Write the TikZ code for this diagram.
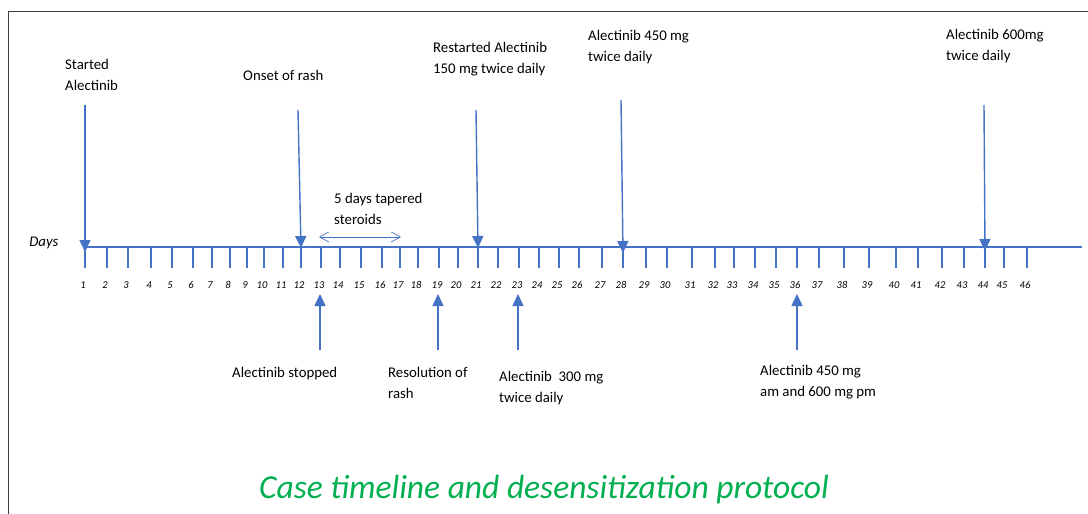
\documentclass[tikz,border=0pt]{standalone}
\usepackage{fontspec}
\setmainfont{Carlito}
\usetikzlibrary{arrows.meta}
\definecolor{lineblue}{RGB}{68,114,196}
\definecolor{titlegreen}{RGB}{0,176,80}

\begin{document}
\begin{tikzpicture}[x=1pt,y=-1pt,
    event/.style={draw=lineblue, line width=1.4pt, -{Triangle[width=11pt,length=12pt]}},
    span/.style={draw=lineblue, line width=0.7pt, {Straight Barb[width=10pt,length=9pt]}-{Straight Barb[width=10pt,length=9pt]}},
    lab/.style={font=\fontsize{14.8}{21}\selectfont, align=left, inner sep=0pt, anchor=north west},
    daynum/.style={font=\fontsize{10.5}{12}\selectfont\itshape, inner sep=0pt}]
                    \useasboundingbox (0,0) rectangle (1088,514);
                    % frame
                    \draw[line width=1pt, black!75] (8,514) -- (8,11) -- (1088,11);

                    % axis
                    \coordinate (axL) at (85,247);
                    \coordinate (axR) at (1082,247);
                    \draw[lineblue, line width=1.8pt] (axL) -- (axR);
                    \node[font=\fontsize{14.8}{16}\selectfont\itshape, anchor=east] (days) at (62,243) {Days};
                    \foreach \d/\x in {1/85,2/107,3/128,4/151,5/172,6/193,7/212,8/230,9/247,10/264,
                                       11/283,12/301,13/321,14/340,15/361,16/382,17/400,18/418,19/439,20/458,
                                       21/478,22/498,23/519,24/539,25/559,26/579,27/602,28/623,29/646,30/667,
                                       31/692,32/715,33/734,34/755,35/776,36/797,37/819,38/844,39/869,40/896,
                                       41/918,42/942,43/964,44/985,45/1004,46/1027}{
                        \coordinate (t\d) at (\x,247);
                        \draw[lineblue, line width=1.5pt] (t\d) -- ++(0,21);
                        \node[daynum] (n\d) at (\x-2,285) {\d};
                    }

                    % events above the axis
                    \node[lab] (start) at (65,59) {Started\\Alectinib};
                    \node[lab] (onset) at (243,70) {Onset of rash};
                    \node[lab] (restart) at (433,42) {Restarted Alectinib\\150 mg twice daily};
                    \node[lab] (dose450) at (588,30) {Alectinib 450 mg\\twice daily};
                    \node[lab] (dose600) at (946,29) {Alectinib 600mg\\twice daily};
                    \draw[event] (85,105) -- ([yshift=-5pt]t1);
                    \draw[event] (298,110) -- ([yshift=-1pt]t12);
                    \draw[event] (476,110) -- ([yshift=-1pt]t21);
                    \draw[event] (621,100) -- ([yshift=-6pt]t28);
                    \draw[event] (984,105) -- ([yshift=-4pt]t44);

                    % steroids
                    \node[lab] (steroid) at (334,193) {5 days tapered\\steroids};
                    \coordinate (sL) at (319,237);
                    \coordinate (sR) at (401,237);
                    \draw[span] (sL) -- (sR);

                    % events below the axis
                    \node[lab] (stop) at (232,367) {Alectinib stopped};
                    \node[lab] (resol) at (388,367) {Resolution of\\rash};
                    \node[lab] (dose300) at (499,371) {Alectinib~~300 mg\\twice daily};
                    \node[lab] (dosemix) at (760,365) {Alectinib 450 mg\\am and 600 mg pm};
                    \draw[event] (320,350) -- (320,294);
                    \draw[event] (438,350) -- (438,294);
                    \draw[event] (518,350) -- (518,294);
                    \draw[event] (797,350) -- (797,294);

                    \node[font=\fontsize{33.5}{38}\selectfont\itshape, text=titlegreen] (title) at (544,490) {Case timeline and desensitization protocol};
                \end{tikzpicture}
\end{document}
